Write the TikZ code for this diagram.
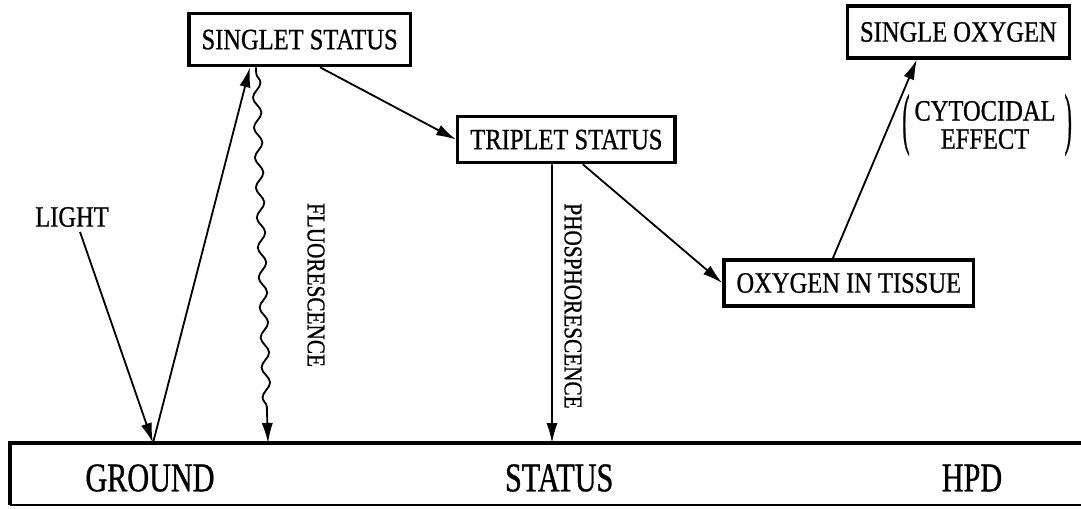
\documentclass[tikz,border=0pt]{standalone}
\usepackage{fontspec}
\usepackage{graphicx}
\setmainfont{Liberation Serif}[FakeStretch=0.83, FakeBold=0.8]
\newfontfamily\groundfont{Liberation Serif}[FakeStretch=0.74, FakeBold=0.8]
\usetikzlibrary{arrows.meta,decorations.pathmorphing}

\begin{document}
\begin{tikzpicture}[
    state/.style={draw, line width=2.4pt, inner xsep=9pt, minimum height=1.15cm, font=\fontsize{21}{24}\selectfont},
    arr/.style={-{Latex[length=5mm,width=2.8mm]}, line width=1.3pt},
    lbl/.style={font=\fontsize{21}{23}\selectfont},
    side/.style={rotate=-90, font=\fontsize{18.2}{20}\selectfont},
    bottom/.style={font=\groundfont\fontsize{29}{32}\selectfont}
  ]
  \useasboundingbox (0,0) rectangle (27.025,12.7);
  % ground status bar, open to the right
  \draw[line width=3.2pt] (27.5,1.625) -- (0.25,1.625) -- (0.25,0.075);
  \draw[line width=1pt] (0.25,0.075) -- (27.5,0.075);
  \node[bottom] (ground) at (3.75,0.75) {GROUND};
  \node[bottom] (status) at (13.98,0.75) {STATUS};
  \node[bottom] (hpd) at (24.3,0.75) {HPD};
  \coordinate (g1) at (3.825,1.625);
  \coordinate (g2) at (6.7,1.625);
  \coordinate (g3) at (13.8,1.625);
  % states
  \node[state, minimum height=1.3cm] (singlet) at (7.49,11.71) {SINGLET STATUS};
  \node[state] (triplet) at (14.16,9.21) {TRIPLET STATUS};
  \node[state, minimum height=1.3cm] (oxygen) at (23.96,11.9) {SINGLE OXYGEN};
  \node[state] (tissue) at (21.22,5.625) {OXYGEN IN TISSUE};
  % labels
  \node[lbl] (light) at (1.8,7.275) {LIGHT};
  \node[side] (fluo) at (7.9,5.575) {FLUORESCENCE};
  \node[side] (phos) at (14.325,5.05) {PHOSPHORESCENCE};
  \node[lbl, inner sep=0pt, align=center] (effect) at (24.625,9.575) {CYTOCIDAL\\[-3pt]EFFECT};
  \node[lbl, inner sep=0pt, anchor=east] (lpar) at ([xshift=-3pt]effect.west) {\scalebox{0.9}[2.3]{(}};
  \node[lbl, inner sep=0pt, anchor=west] (rpar) at ([xshift=6pt]effect.east) {\scalebox{0.9}[2.3]{)}};
  % transitions
  \draw[arr] ([xshift=0.2cm]light.south) -- (g1);
  \draw[arr] (g1) -- ([xshift=-1.24cm]singlet.south);
  \draw[arr, decorate, decoration={snake, amplitude=0.1cm, segment length=0.75cm, pre length=0.15cm, post length=0.7cm}]
    ([xshift=-1.09cm]singlet.south) -- (g2);
  \draw[arr] ([xshift=0.51cm]singlet.south) -- (triplet.west);
  \draw[arr] ([xshift=-0.36cm]triplet.south) -- (g3);
  \draw[arr] ([xshift=0.41cm]triplet.south) -- (tissue.west);
  \draw[arr] ([xshift=-0.4cm]tissue.north) -- ([xshift=-1.04cm]oxygen.south);
\end{tikzpicture}
\end{document}
